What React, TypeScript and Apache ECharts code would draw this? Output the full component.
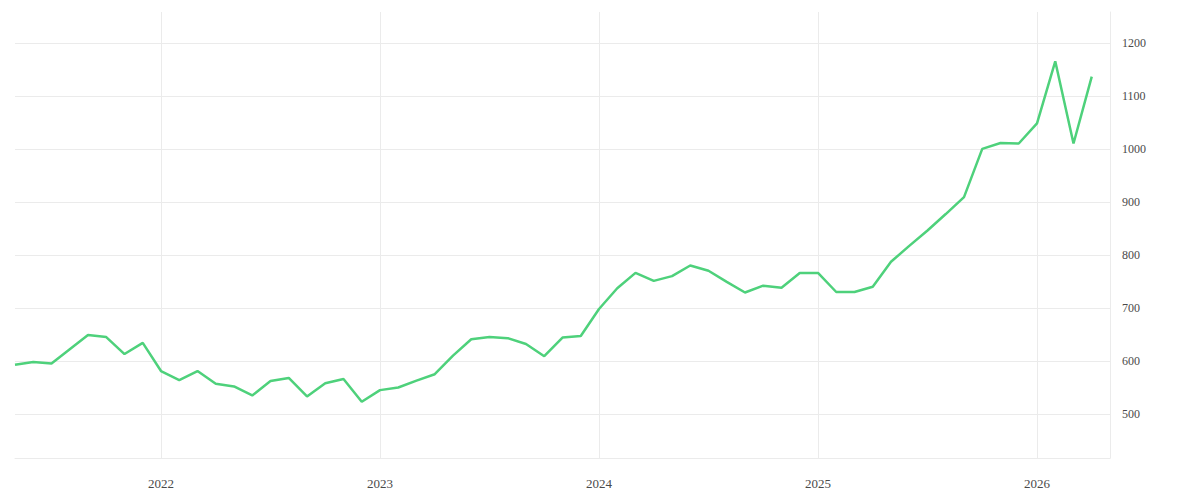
import { useEffect, useRef } from 'react';
import * as echarts from 'echarts';

// monthly points, 2021-05 .. 2026-04; the last category closes the axis
const months = [
  '2021-05', '2021-06', '2021-07', '2021-08', '2021-09', '2021-10', '2021-11', '2021-12',
  '2022-01', '2022-02', '2022-03', '2022-04', '2022-05', '2022-06', '2022-07', '2022-08', '2022-09', '2022-10', '2022-11', '2022-12',
  '2023-01', '2023-02', '2023-03', '2023-04', '2023-05', '2023-06', '2023-07', '2023-08', '2023-09', '2023-10', '2023-11', '2023-12',
  '2024-01', '2024-02', '2024-03', '2024-04', '2024-05', '2024-06', '2024-07', '2024-08', '2024-09', '2024-10', '2024-11', '2024-12',
  '2025-01', '2025-02', '2025-03', '2025-04', '2025-05', '2025-06', '2025-07', '2025-08', '2025-09', '2025-10', '2025-11', '2025-12',
  '2026-01', '2026-02', '2026-03', '2026-04', '2026-05',
];

const values = [
  593, 598, 595, 622, 649, 645, 613, 634,
  581, 564, 581, 557, 552, 535, 562, 568, 533, 558, 566, 523,
  545, 550, 563, 575, 610, 641, 645, 643, 632, 609, 644, 647,
  698, 737, 766, 751, 760, 780, 770, 749, 729, 742, 738, 766,
  766, 730, 730, 740, 787, 817, 846, 877, 909, 1000, 1011, 1010,
  1048, 1165, 1010, 1136,
];

const yMin = 417;
const yMax = 1258;

const GRID = '#ebebeb';
const TEXT = '#4a4a4a';
const FONT = '"Liberation Serif", "DejaVu Serif", serif';

const isJanuary = (_i: number, v: string) => v.endsWith('-01');

export default function App() {
  const ref = useRef<HTMLDivElement>(null);

  useEffect(() => {
    if (!ref.current) return;
    const chart = echarts.init(ref.current, undefined, { renderer: 'svg' });
    chart.setOption({
      animation: false,
      backgroundColor: '#ffffff',
      grid: { left: 15, right: 90, top: 12, bottom: 42, containLabel: false },
      xAxis: {
        type: 'category',
        data: months,
        boundaryGap: false,
        axisLine: { show: true, lineStyle: { color: GRID, width: 1 } },
        axisTick: { show: false },
        axisLabel: {
          interval: isJanuary,
          formatter: (v: string) => v.slice(0, 4),
          color: TEXT,
          fontFamily: FONT,
          fontSize: 13,
          margin: 19,
        },
        splitLine: { show: true, interval: isJanuary, lineStyle: { color: GRID, width: 1 } },
      },
      yAxis: {
        type: 'value',
        position: 'right',
        min: yMin,
        max: yMax,
        splitNumber: 8,
        axisLine: { show: true, lineStyle: { color: GRID, width: 1 } },
        axisTick: { show: false },
        axisLabel: {
          showMinLabel: false,
          showMaxLabel: false,
          formatter: (v: number) => (v % 100 === 0 ? String(v) : ''),
          color: TEXT,
          fontFamily: FONT,
          fontSize: 12,
          margin: 12,
        },
        splitLine: {
          show: true,
          showMinLine: false,
          showMaxLine: false,
          lineStyle: { color: GRID, width: 1 },
        },
      },
      series: [
        {
          type: 'line',
          data: values,
          showSymbol: false,
          symbol: 'none',
          lineStyle: { color: '#4ed17b', width: 2.5 },
          itemStyle: { color: '#4ed17b' },
        },
      ],
    });
    return () => chart.dispose();
  }, []);

  return (
    <div
      ref={ref}
      style={{ position: 'absolute', left: 0, top: 0, width: 1200, height: 500 }}
    />
  );
}
